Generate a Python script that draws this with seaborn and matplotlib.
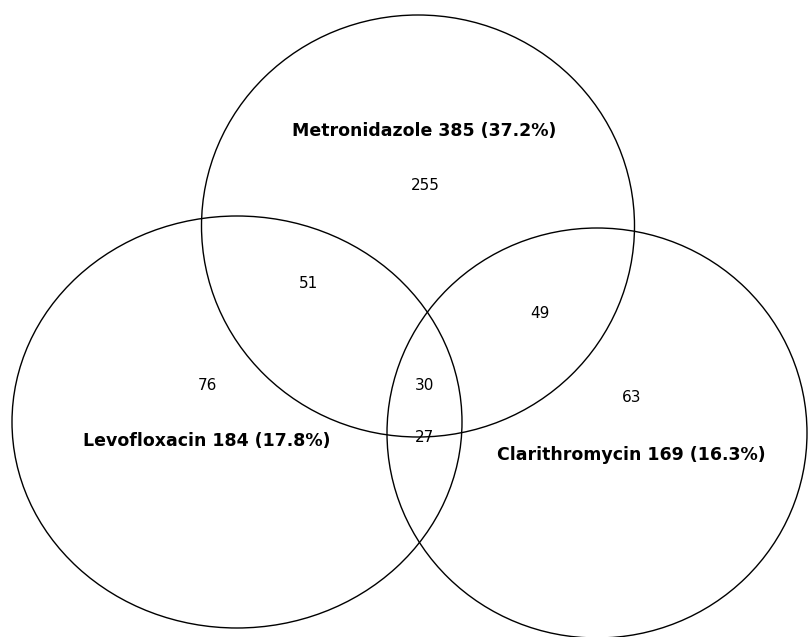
import matplotlib
matplotlib.use("Agg")
import matplotlib.pyplot as plt
from matplotlib.patches import Ellipse
import seaborn as sns

# drug sets: name, total patients, share of all
set_names = ["Metronidazole", "Levofloxacin", "Clarithromycin"]
set_totals = [385, 184, 169]
set_pcts = [37.2, 17.8, 16.3]

# region counts of the Venn diagram
region_keys = ["M", "ML", "MC", "L", "MLC", "C", "LC"]
region_counts = [255, 51, 49, 76, 30, 63, 27]

# layout in pixel coordinates (y grows downward)
ellipse_geom = {
    "Metronidazole": (418, 226, 433, 422),
    "Levofloxacin": (237, 422, 450, 412),
    "Clarithromycin": (597, 433, 420, 410),
}
set_label_pos = {
    "Metronidazole": (424, 131),
    "Levofloxacin": (207, 441),
    "Clarithromycin": (631, 455),
}
region_pos = {
    "M": (425, 185), "ML": (308, 284), "MC": (540, 313), "L": (207, 386),
    "MLC": (424, 385), "C": (632, 398), "LC": (424, 438),
}

sns.set_theme(style="white")
plt.rcParams["font.family"] = ["DejaVu Sans"]

fig = plt.figure(figsize=(8.08, 6.37), dpi=100)
ax = fig.add_axes([0, 0, 1, 1])
ax.set_xlim(0, 808)
ax.set_ylim(637, 0)
ax.axis("off")

for name in set_names:
    cx, cy, w, h = ellipse_geom[name]
    ax.add_patch(Ellipse((cx, cy), w, h, fill=False, edgecolor="black", linewidth=1.0))

for name, total, pct in zip(set_names, set_totals, set_pcts):
    x, y = set_label_pos[name]
    ax.text(x, y, f"{name} {total} ({pct}%)", ha="center", va="center",
            fontsize=12.5, fontweight="bold", color="black")

for key, count in zip(region_keys, region_counts):
    x, y = region_pos[key]
    ax.text(x, y, str(count), ha="center", va="center", fontsize=11, color="black")

fig.savefig("out.png", dpi=100, facecolor="white")
